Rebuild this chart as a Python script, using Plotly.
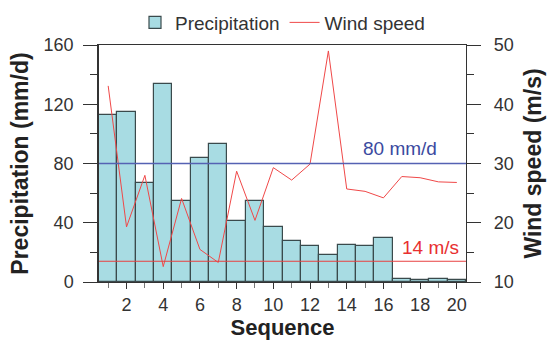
import plotly.graph_objects as go

sequence = list(range(1, 21))
precipitation = [113, 115, 67, 134, 55, 84, 93, 41, 55, 37,
                 28, 24, 18, 25, 24, 30, 2, 1.1, 1.8, 1.1]
wind_speed = [43.1, 19.3, 28.0, 12.6, 24.1, 15.5, 13.3, 28.7, 20.4, 29.3,
              27.2, 29.9, 49.0, 25.7, 25.3, 24.2, 27.8, 27.6, 26.9, 26.8]
precip_ref = 80
wind_ref = 13.5
precip_ref_label = "80 mm/d"
wind_ref_label = "14 m/s"

FONT = "Liberation Sans, Arial, sans-serif"
AX = "#333333"

fig = go.Figure()
fig.add_trace(go.Bar(
    x=sequence, y=precipitation, width=1, name="Precipitation",
    marker=dict(color="#a8dce3", line=dict(color="#3a4a4c", width=1.2)),
))
fig.add_trace(go.Scatter(
    x=sequence, y=wind_speed, yaxis="y2", mode="lines", name="Wind speed",
    line=dict(color="#f04848", width=1),
))

fig.add_shape(type="line", xref="paper", x0=0, x1=1, yref="y", y0=precip_ref, y1=precip_ref,
              line=dict(color="#5562b3", width=1.3))
fig.add_shape(type="line", xref="paper", x0=0, x1=1, yref="y2", y0=wind_ref, y1=wind_ref,
              line=dict(color="#e84040", width=1))

fig.add_annotation(x=16.9, y=precip_ref, xref="x", yref="y", text=precip_ref_label,
                   showarrow=False, yanchor="bottom", yshift=3,
                   font=dict(family=FONT, size=19, color="#3b4aa0"))
fig.add_annotation(x=18.54, y=wind_ref, xref="x", yref="y2", text=wind_ref_label,
                   showarrow=False, yanchor="bottom", yshift=1,
                   font=dict(family=FONT, size=19, color="#e83030"))

fig.update_layout(
    width=554, height=343,
    margin=dict(l=99, r=88, t=45, b=61, autoexpand=False),
    paper_bgcolor="white", plot_bgcolor="white",
    font=dict(family=FONT, size=18, color="#333333"),
    bargap=0,
    showlegend=True,
    legend=dict(orientation="h", x=0.5, xanchor="center", y=1.175, yanchor="top",
                font=dict(family=FONT, size=19, color="#333333"),
                bgcolor="rgba(0,0,0,0)", itemwidth=30),
    xaxis=dict(range=[0.5, 20.5], tick0=0, dtick=2, ticks="outside", ticklen=6,
               tickcolor=AX, showline=True, linecolor=AX, linewidth=1.3, mirror=True,
               showgrid=False, zeroline=False, tickfont=dict(size=18),
               minor=dict(dtick=1, ticks="outside", ticklen=5, tickcolor="#777777"),
               title=dict(text="<b>Sequence</b>", font=dict(family=FONT, size=22, color="#222222"),
                          standoff=2)),
    yaxis=dict(range=[0, 160], dtick=40, ticks="outside", ticklen=14, tickcolor=AX,
               showline=True, linecolor=AX, linewidth=1.5, showgrid=False, zeroline=False,
               tickfont=dict(size=18), ticklabelstandoff=6,
               minor=dict(dtick=20, ticks="outside", ticklen=7, tickcolor=AX),
               title=dict(text="<b>Precipitation (mm/d)</b>",
                          font=dict(family=FONT, size=23, color="#222222"), standoff=9)),
    yaxis2=dict(range=[10, 50], dtick=10, overlaying="y", side="right", ticks="outside",
                ticklen=14, tickcolor=AX, showline=True, linecolor=AX, linewidth=1.3,
                showgrid=False, zeroline=False, tickfont=dict(size=18), ticklabelstandoff=9,
                minor=dict(dtick=5, ticks="outside", ticklen=7, tickcolor=AX),
                title=dict(text="<b>Wind speed (m/s)</b>",
                           font=dict(family=FONT, size=23, color="#222222"), standoff=12)),
)

fig.write_html("out.html")
